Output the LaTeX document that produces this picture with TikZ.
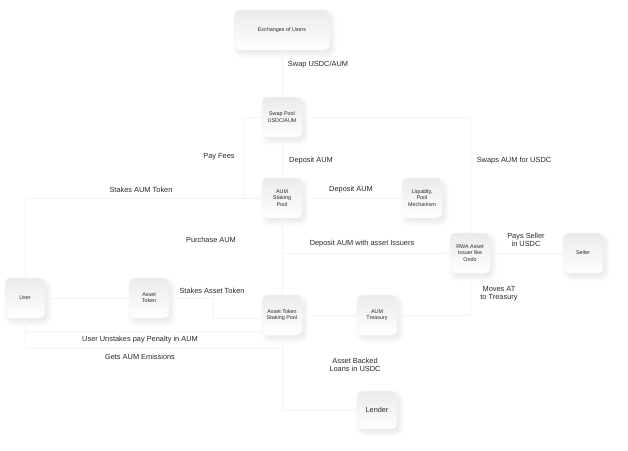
\documentclass[tikz,border=0pt]{standalone}
\usepackage{fontspec}
\setmainfont{Liberation Sans}
\usetikzlibrary{arrows.meta,shadows.blur}
\definecolor{conncol}{RGB}{244,244,244}
\definecolor{labcol}{RGB}{40,40,40}
\tikzset{
  box/.style={rounded corners=5pt, draw=black!4, top color=black!8, bottom color=white,
    minimum width=40pt, minimum height=40pt, inner sep=1pt, align=center,
    font=\fontsize{5.4}{6.2}\selectfont, text=labcol,
    blur shadow={shadow xshift=3pt, shadow yshift=-4pt, shadow opacity=10,
      shadow blur steps=10, shadow blur radius=5pt, shadow blur extra rounding=2pt}},
  lab/.style={font=\fontsize{7.4}{8.4}\selectfont, text=labcol, align=center, inner sep=0pt},
  conn/.style={draw=conncol, line width=0.8pt, -{Stealth[length=3.5pt,width=3pt]}},
  plain/.style={draw=conncol, line width=0.8pt}
}
\begin{document}
\begin{tikzpicture}[x=1pt,y=-1pt]
\useasboundingbox (0,0) rectangle (628,450);
% nodes
\node[box, minimum width=95pt] (exch) at (282,30) {Exchanges of Users};
\node[box] (swap) at (282,117) {Swap Pool\\USDC/AUM};
\node[box] (aumsp) at (282,198) {AUM\\Staking\\Pool};
\node[box] (liq) at (422,198) {Liquidity,\\Pool\\Mechanism};
\node[box] (rwa) at (470,253) {RWA Asset\\Issuer like\\Ondo};
\node[box] (seller) at (583,253) {Seller};
\node[box] (user) at (25,298) {User};
\node[box] (atoken) at (149,298) {Asset\\Token};
\node[box] (atsp) at (282,315) {Asset Token\\Staking Pool};
\node[box] (treas) at (377,315) {AUM\\Treasury};
\node[box, minimum height=38pt, font=\fontsize{7.3}{8.3}\selectfont] (lender) at (377,410) {Lender};
% coordinates
\coordinate (pf) at (244,198);
\coordinate (sa) at (213,318);
\coordinate (un) at (262,331);
\coordinate (em) at (25,348);
% connectors
\draw[conn] (exch.south) -- (swap.north);
\draw[conn] (rwa.north) |- (swap.east);
\draw[conn] (pf) |- (swap.west);
\draw[conn] (swap.south) -- (aumsp.north);
\draw[conn] (user.north) |- (aumsp.west);
\draw[conn] (aumsp.east) -- (liq.west);
\draw[conn] (aumsp.south) |- (rwa.west);
\draw[plain] (atsp.north) -- (aumsp.south);
\draw[conn] (rwa.east) -- (seller.west);
\draw[conn] (rwa.south) |- (treas.east);
\draw[conn] (user.east) -- (atoken.west);
\draw[conn] (atoken.east) -| (sa) -- (sa -| atsp.west);
\draw[conn] (atsp.east) -- (treas.west);
\draw[conn] (un) -| (user.south);
\draw[plain] (atsp.south) |- (em) -- (user.south);
\draw[conn] (atsp.south) |- (lender.west);
% labels
\node[lab] (l1) at (318,65) {Swap USDC/AUM};
\node[lab] (l2) at (219,157) {Pay Fees};
\node[lab] (l3) at (311,161) {Deposit AUM};
\node[lab] (l4) at (514,161) {Swaps AUM for USDC};
\node[lab] (l5) at (141,190) {Stakes AUM Token};
\node[lab] (l6) at (351,190) {Deposit AUM};
\node[lab] (l7) at (211,240) {Purchase AUM};
\node[lab] (l8) at (362,244) {Deposit AUM with asset Issuers};
\node[lab] (l9) at (526,240) {Pays Seller\\in USDC};
\node[lab] (l10) at (499,294) {Moves AT\\to Treasury};
\node[lab] (l11) at (212,291) {Stakes Asset Token};
\node[lab] (l12) at (140,340) {User Unstakes pay Penalty in AUM};
\node[lab] (l13) at (140,357) {Gets AUM Emissions};
\node[lab] (l14) at (355,365) {Asset Backed\\Loans in USDC};
\end{tikzpicture}
\end{document}
